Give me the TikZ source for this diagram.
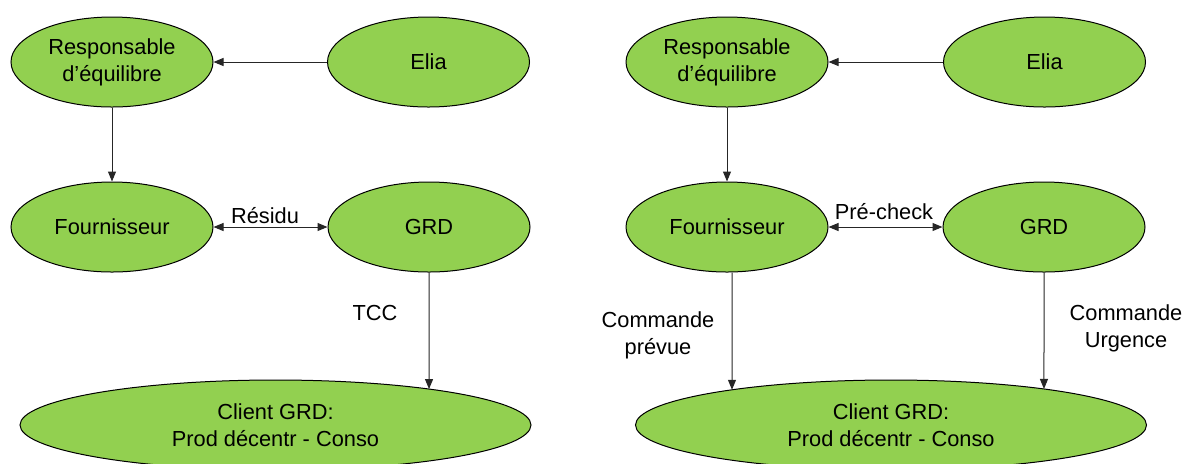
\documentclass[tikz,border=0pt]{standalone}
\usepackage{fontspec}
\setmainfont{Liberation Sans}
\usetikzlibrary{shapes.geometric,arrows.meta,intersections}
\definecolor{leaf}{HTML}{92D050}
\begin{document}
\begin{tikzpicture}[x=0.5pt,y=-0.5pt,
  txt/.style={font=\fontsize{10.9}{13.4}\selectfont},
  bubble/.style={ellipse, draw=black, line width=0.5pt, fill=leaf,
    inner sep=0pt, align=center, txt,
    minimum width=101pt, minimum height=45pt},
  wide/.style={bubble, minimum width=255.5pt},
  tip/.tip={Triangle[length=5pt,width=4pt]},
  link/.style={draw=black!85, line width=0.5pt, -tip},
  twoway/.style={draw=black!85, line width=0.5pt, tip-tip},
  lbl/.style={txt, align=center, inner sep=0pt}]
\useasboundingbox (0,0) rectangle (1187,463);

% left-hand scheme
\node[bubble] (resp1)   at (112,62)    {Responsable\\d’équilibre};
\node[bubble] (elia1)   at (428.5,62)  {Elia};
\node[bubble] (four1)   at (112,227)   {Fournisseur};
\node[bubble] (grd1)    at (429,227)   {GRD};
\node[wide, name path=c1] (client1) at (275.5,425) {Client GRD:\\Prod décentr - Conso};

\draw[link] (elia1) -- (resp1);
\draw[link] (resp1) -- (four1);
\draw[twoway] (four1) -- (grd1);
\path[name path=v1] (grd1.south) -- ++(0,200);
\path[name intersections={of=c1 and v1, by=hit1}];
\draw[link] (grd1.south) -- (hit1);

\node[lbl, anchor=base] (residu) at (265,223) {Résidu};
\node[lbl] (tcc) at (375,313) {TCC};

% right-hand scheme
\node[bubble] (resp2)   at (727,62)    {Responsable\\d’équilibre};
\node[bubble] (elia2)   at (1044.5,62) {Elia};
\node[bubble] (four2)   at (727,227)   {Fournisseur};
\node[bubble] (grd2)    at (1044,227)  {GRD};
\node[wide, name path=c2] (client2) at (891,425) {Client GRD:\\Prod décentr - Conso};

\draw[link] (elia2) -- (resp2);
\draw[link] (resp2) -- (four2);
\draw[twoway] (four2) -- (grd2);
\coordinate (out2) at ([xshift=2.5pt]four2.south);
\path[name path=v2] (out2) -- ++(0,200);
\path[name path=v3] (grd2.south) -- ++(0,200);
\path[name intersections={of=c2 and v2, by=hit2}];
\path[name intersections={of=c2 and v3, by=hit3}];
\draw[link] (out2) -- (hit2);
\draw[link] (grd2.south) -- (hit3);

\node[lbl, anchor=base] (precheck) at (884,219) {Pré-check};
\node[lbl] (prevue)  at (658,335)    {Commande\\prévue};
\node[lbl] (urgence) at (1126,328.5) {Commande\\Urgence};
\end{tikzpicture}
\end{document}
